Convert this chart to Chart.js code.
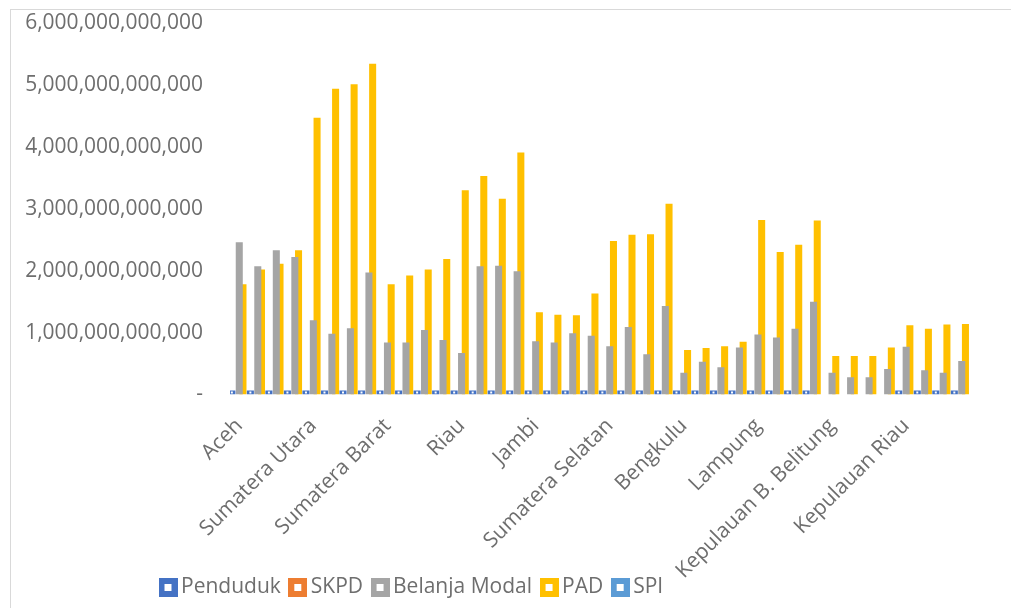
<!DOCTYPE html>
<html lang="id">
<head>
  <meta charset="UTF-8">
  <title>Penduduk, SKPD, Belanja Modal, PAD, SPI</title>
  <script src="https://cdn.jsdelivr.net/npm/chart.js@4.4.0/dist/chart.umd.min.js"></script>
  <style>
    html, body { margin: 0; padding: 0; background: #fff; }
    #bingkai { position: absolute; left: 10px; top: 9px; width: 1100px; height: 700px;
               border-left: 1px solid #d9d9d9; border-top: 1px solid #d9d9d9; }
    #wadah { position: absolute; left: 0; top: 0; width: 1011px; height: 608px; }
  </style>
</head>
<body>
  <div id="bingkai"></div>
  <div id="wadah"><canvas id="grafik"></canvas></div>

  <script>
    // provinsi (label tiap 4 kategori)
    const provinsi = ['Aceh', 'Sumatera Utara', 'Sumatera Barat', 'Riau', 'Jambi',
      'Sumatera Selatan', 'Bengkulu', 'Lampung', 'Kepulauan B. Belitung', 'Kepulauan Riau'];

    // tick sumbu Y
    const tickY = [0, 1e12, 2e12, 3e12, 4e12, 5e12, 6e12];

    // nilai per seri
    const penduduk = [
      6e10, 6e10, 6e10, 6e10, 6e10, 6e10, 6e10, 6e10, 6e10, 6e10,
      6e10, 6e10, 6e10, 6e10, 6e10, 6e10, 6e10, 6e10, 6e10, 6e10,
      6e10, 6e10, 6e10, 6e10, 6e10, 6e10, 6e10, 6e10, 6e10, 6e10,
      6e10, 6e10, null, null, null, null, 6e10, 6e10, 6e10, 6e10];
    const skpd = [
      0, 0, 0, 0, 0, 0, 0, 0, 0, 0, 0, 0, 0, 0, 0, 0, 0, 0, 0, 0,
      0, 0, 0, 0, 0, 0, 0, 0, 0, 0, 0, 0, 0, 0, 0, 0, 0, 0, 0, 0];
    const belanjaModal = [
      2.46e12, 2.07e12, 2.33e12, 2.22e12, 1.20e12, 0.98e12, 1.07e12, 1.97e12,
      0.84e12, 0.84e12, 1.04e12, 0.88e12, 0.67e12, 2.07e12, 2.08e12, 1.99e12,
      0.86e12, 0.84e12, 0.99e12, 0.95e12, 0.78e12, 1.09e12, 0.65e12, 1.43e12,
      0.35e12, 0.53e12, 0.44e12, 0.76e12, 0.97e12, 0.92e12, 1.06e12, 1.50e12,
      0.35e12, 0.28e12, 0.28e12, 0.41e12, 0.77e12, 0.39e12, 0.35e12, 0.54e12];
    const pad = [
      1.78e12, 2.02e12, 2.11e12, 2.33e12, 4.47e12, 4.94e12, 5.01e12, 5.34e12,
      1.78e12, 1.92e12, 2.02e12, 2.19e12, 3.30e12, 3.53e12, 3.16e12, 3.91e12,
      1.33e12, 1.29e12, 1.28e12, 1.63e12, 2.48e12, 2.58e12, 2.59e12, 3.08e12,
      0.72e12, 0.75e12, 0.78e12, 0.85e12, 2.82e12, 2.30e12, 2.42e12, 2.81e12,
      0.62e12, 0.62e12, 0.62e12, 0.76e12, 1.12e12, 1.06e12, 1.13e12, 1.14e12];
    const spi = [
      0, 0, 0, 0, 0, 0, 0, 0, 0, 0, 0, 0, 0, 0, 0, 0, 0, 0, 0, 0,
      0, 0, 0, 0, 0, 0, 0, 0, 0, 0, 0, 0, 0, 0, 0, 0, 0, 0, 0, 0];

    // 40 kategori, nama provinsi hanya di kategori pertama tiap kelompok
    const kategori = [];
    provinsi.forEach(p => { kategori.push(p, '', '', ''); });

    const warna = ['#4472C4', '#ED7D31', '#A5A5A5', '#FFC000', '#5B9BD5'];
    const abu = '#6e6e6e';
    const huruf = "'Open Sans', sans-serif";

    // ikon legenda: kotak berwarna dengan isi putih
    function ikon(c) {
      const cv = document.createElement('canvas');
      cv.width = 19; cv.height = 19;
      const g = cv.getContext('2d');
      g.fillStyle = c; g.fillRect(0, 0, 19, 19);
      g.fillStyle = '#fff'; g.fillRect(6, 6, 7, 7);
      return cv;
    }

    // geser legenda ke posisi seperti aslinya + titik putih pada batang penduduk
    const pluginKecil = {
      id: 'pluginKecil',
      beforeDraw(chart) {
        if (chart.legend) chart.legend.left = 151;
      },
      afterDatasetsDraw(chart) {
        const ctx = chart.ctx;
        chart.getDatasetMeta(0).data.forEach((bar, i) => {
          if (penduduk[i] == null) return;
          ctx.fillStyle = '#fff';
          ctx.fillRect(bar.x - 1, (bar.y + bar.base) / 2 - 1, 2, 2);
        });
      }
    };

    function buatSeri(label, data, i) {
      return {
        label: label,
        data: data,
        backgroundColor: warna[i],
        borderWidth: 0,
        barPercentage: 1.9,
        categoryPercentage: 1.0,
        minBarLength: i === 0 ? 4 : 0
      };
    }

    function buatGrafik() {
      const ctx = document.getElementById('grafik').getContext('2d');
      new Chart(ctx, {
        type: 'bar',
        data: {
          labels: kategori,
          datasets: [
            buatSeri('Penduduk', penduduk, 0),
            buatSeri('SKPD', skpd, 1),
            buatSeri('Belanja Modal', belanjaModal, 2),
            buatSeri('PAD', pad, 3),
            buatSeri('SPI', spi, 4)
          ]
        },
        options: {
          responsive: true,
          maintainAspectRatio: false,
          animation: false,
          layout: { padding: { left: 18, right: 40, top: 23, bottom: 0 } },
          plugins: {
            tooltip: { enabled: false },
            legend: {
              position: 'bottom',
              align: 'start',
              labels: {
                usePointStyle: true,
                boxWidth: 5,
                boxHeight: 5,
                padding: 14.5,
                color: abu,
                font: { family: huruf, size: 21 },
                generateLabels(chart) {
                  return chart.data.datasets.map((ds, i) => ({
                    text: ds.label,
                    pointStyle: ikon(warna[i]),
                    fillStyle: warna[i],
                    strokeStyle: warna[i],
                    lineWidth: 0,
                    fontColor: abu,
                    hidden: false,
                    datasetIndex: i
                  }));
                }
              }
            }
          },
          scales: {
            x: {
              grid: { display: false, drawTicks: false },
              border: { display: false },
              afterFit(scale) {
                scale.height = 168;
                // label panjang boleh melewati batas sumbu
                scale._computeLabelArea = () => undefined;
              },
              ticks: {
                autoSkip: false,
                minRotation: 45,
                maxRotation: 45,
                padding: 19,
                color: abu,
                font: { family: huruf, size: 21 }
              }
            },
            y: {
              min: 0,
              max: 6e12,
              afterBuildTicks(axis) { axis.ticks = tickY.map(v => ({ value: v })); },
              afterFit(scale) {
                scale.width = 212;
                scale.paddingTop = 0;
                scale.paddingBottom = 0;
              },
              grid: { display: false, drawTicks: false },
              border: { display: false },
              ticks: {
                padding: 27,
                color: abu,
                font: { family: huruf, size: 21 },
                callback: v => v === 0 ? '-' : v.toLocaleString('en-US')
              }
            }
          }
        },
        plugins: [pluginKecil]
      });
    }

    // tunggu huruf siap agar ukuran label diukur dengan benar
    Promise.all([
      document.fonts.load("21px 'Open Sans'"),
      document.fonts.load("20px 'Open Sans'")
    ]).then(buatGrafik, buatGrafik);
  </script>
</body>
</html>
